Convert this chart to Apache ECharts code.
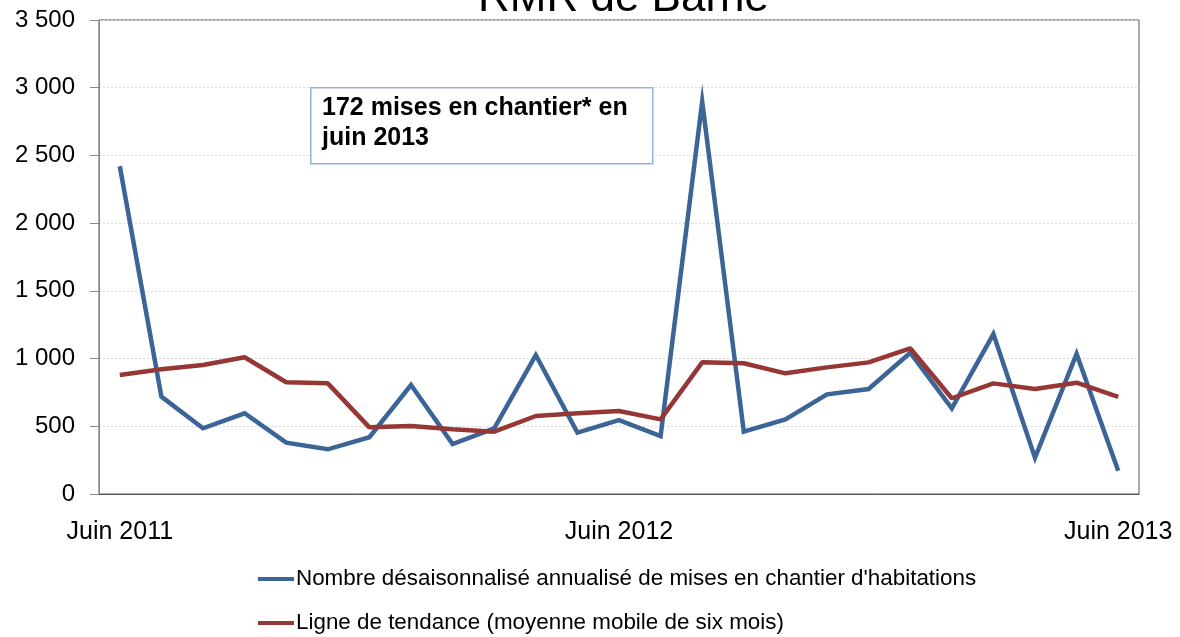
<!DOCTYPE html>
<html>
<head>
<meta charset="utf-8">
<script src="https://cdn.jsdelivr.net/npm/echarts@6/dist/echarts.min.js"></script>
<style>html,body{margin:0;padding:0;background:#fff;}#c{width:1180px;height:637px;}</style>
</head>
<body>
<div id="c"></div>
<script>
const categories = [
  "Juin 2011","Juil. 2011","Août 2011","Sept. 2011","Oct. 2011","Nov. 2011","Déc. 2011",
  "Janv. 2012","Févr. 2012","Mars 2012","Avr. 2012","Mai 2012","Juin 2012",
  "Juil. 2012","Août 2012","Sept. 2012","Oct. 2012","Nov. 2012","Déc. 2012",
  "Janv. 2013","Févr. 2013","Mars 2013","Avr. 2013","Mai 2013","Juin 2013"
];
const misesEnChantier = [2420, 719, 485, 596, 379, 330, 419, 805, 369, 485, 1026, 453, 546,
  428, 2897, 460, 551, 736, 775, 1043, 633, 1181, 268, 1034, 172];
const tendance = [879, 921, 953, 1010, 825, 817, 492, 502, 478, 460, 576, 596, 613,
  551, 972, 965, 891, 935, 972, 1076, 707, 817, 775, 822, 718];
const yTicks = [0, 500, 1000, 1500, 2000, 2500, 3000, 3500];
const seriesNames = [
  "Nombre désaisonnalisé annualisé de mises en chantier d'habitations",
  "Ligne de tendance (moyenne mobile de six mois)"
];
const titleText = "RMR de Barrie";
const noteLines = ["172 mises en chantier* en", "juin 2013"];

const FONT = "'Liberation Sans', Arial, sans-serif";
const legendBase = {
  orient: 'vertical',
  left: 258,
  padding: 0,
  itemWidth: 36, itemHeight: 4,
  icon: 'rect',
  textStyle: {fontFamily: FONT, fontSize: 22.4, color: '#000', padding: [0, 0, 0, -3]}
};
const chart = echarts.init(document.getElementById('c'), null, {renderer: 'canvas'});
chart.setOption({
  animation: false,
  backgroundColor: '#ffffff',
  title: {
    text: titleText,
    left: 473, top: -28,
    textStyle: {fontFamily: FONT, fontSize: 44, fontWeight: 'normal', color: '#000'}
  },
  grid: {
    left: 99, right: 41, top: 20, bottom: 143,
    show: true, borderColor: '#595959', borderWidth: 1, backgroundColor: 'transparent'
  },
  legend: [
    Object.assign({}, legendBase, {top: 568, data: [seriesNames[0]]}),
    Object.assign({}, legendBase, {top: 612, data: [seriesNames[1]]})
  ],
  xAxis: {
    type: 'category',
    data: categories,
    boundaryGap: true,
    axisLine: {show: true, lineStyle: {color: '#595959', width: 1}},
    axisTick: {show: false},
    axisLabel: {
      interval: function (i) { return i % 12 === 0; },
      margin: 26,
      fontFamily: FONT, fontSize: 25, color: '#000'
    },
    splitLine: {show: false}
  },
  yAxis: {
    type: 'value',
    min: yTicks[0], max: yTicks[yTicks.length - 1], interval: 500,
    axisLine: {show: true, lineStyle: {color: '#868686', width: 1}},
    axisTick: {show: true, length: 9, lineStyle: {color: '#868686'}},
    axisLabel: {
      margin: 24,
      fontFamily: FONT, fontSize: 24, color: '#000',
      formatter: function (v) { return String(v).replace(/\B(?=(\d{3})+(?!\d))/g, ' '); }
    },
    splitLine: {show: true, lineStyle: {color: '#d9d9d9', type: [2, 2], width: 1}}
  },
  series: [
    {
      name: seriesNames[0], type: 'line', data: misesEnChantier,
      symbol: 'none', lineStyle: {color: '#3b6597', width: 4.5, join: 'miter'},
      itemStyle: {color: '#3b6597'}, z: 2
    },
    {
      name: seriesNames[1], type: 'line', data: tendance,
      symbol: 'none', lineStyle: {color: '#953735', width: 4.5},
      itemStyle: {color: '#953735'}, z: 3
    }
  ],
  graphic: [
    {
      type: 'rect', left: 310, top: 87, z: 10,
      shape: {width: 342, height: 76},
      style: {fill: '#ffffff', stroke: '#8db3e2', lineWidth: 1.5}
    },
    {
      type: 'text', left: 322, top: 93, z: 11,
      style: {
        text: noteLines.join('\n'), fill: '#000',
        font: "bold 25px " + FONT, lineHeight: 30
      }
    }
  ]
});
</script>
</body>
</html>
